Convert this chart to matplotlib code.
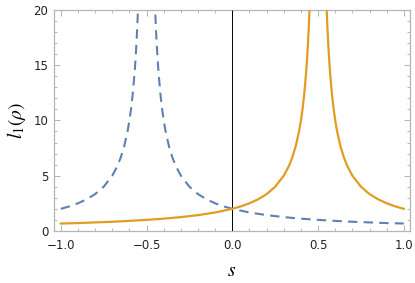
import matplotlib
matplotlib.use("Agg")
import matplotlib.pyplot as plt
from matplotlib.ticker import MultipleLocator

plt.rcParams['mathtext.fontset'] = 'stix'

# Dashed blue curve (two branches around the pole near s = -0.5)
blue_left_s = [-1.0, -0.95, -0.9, -0.85, -0.8, -0.75, -0.7, -0.67, -0.65, -0.63, -0.61, -0.6,
               -0.59, -0.58, -0.57, -0.565, -0.56, -0.555, -0.55, -0.545]
blue_left_v = [2.0, 2.22, 2.5, 2.86, 3.33, 4.0, 5.0, 5.88, 6.67, 7.69, 9.09, 10.0,
               11.1, 12.5, 14.3, 15.4, 16.7, 18.2, 20.0, 22.2]
blue_right_s = [-0.455, -0.45, -0.445, -0.44, -0.435, -0.43, -0.42, -0.41, -0.4, -0.39, -0.37, -0.35,
                -0.33, -0.3, -0.25, -0.2, -0.15, -0.1, -0.05, 0.0,
                0.1, 0.2, 0.3, 0.4, 0.5, 0.6, 0.7, 0.8, 0.9, 1.0]
blue_right_v = [22.2, 20.0, 18.2, 16.7, 15.4, 14.3, 12.5, 11.1, 10.0, 9.09, 7.69, 6.67,
                5.88, 5.0, 4.0, 3.33, 2.86, 2.5, 2.22, 2.0,
                1.67, 1.43, 1.25, 1.11, 1.0, 0.91, 0.83, 0.77, 0.71, 0.67]

# Solid orange curve (two branches around the pole near s = 0.5)
orange_left_s = [-1.0, -0.9, -0.8, -0.7, -0.6, -0.5, -0.4, -0.3, -0.2, -0.1, 0.0, 0.05, 0.1, 0.15, 0.2,
                 0.25, 0.3, 0.33, 0.35, 0.37, 0.39, 0.4, 0.41, 0.42, 0.43, 0.435, 0.44, 0.445, 0.45, 0.455]
orange_left_v = [0.67, 0.71, 0.77, 0.83, 0.91, 1.0, 1.11, 1.25, 1.43, 1.67, 2.0, 2.22, 2.5, 2.86, 3.33,
                 4.0, 5.0, 5.88, 6.67, 7.69, 9.09, 10.0, 11.1, 12.5, 14.3, 15.4, 16.7, 18.2, 20.0, 22.2]
orange_right_s = [0.545, 0.55, 0.555, 0.56, 0.565, 0.57, 0.58, 0.59, 0.6, 0.61, 0.63, 0.65, 0.67,
                  0.7, 0.75, 0.8, 0.85, 0.9, 0.95, 1.0]
orange_right_v = [22.2, 20.0, 18.2, 16.7, 15.4, 14.3, 12.5, 11.1, 10.0, 9.09, 7.69, 6.67, 5.88,
                  5.0, 4.0, 3.33, 2.86, 2.5, 2.22, 2.0]

x_ticks = [-1.0, -0.5, 0.0, 0.5, 1.0]
x_ticklabels = ["\u22121.0", "\u22120.5", "0.0", "0.5", "1.0"]
y_ticks = [0, 5, 10, 15, 20]

blue = "#5E81B5"
orange = "#E19C24"

fig = plt.figure(figsize=(4.15, 2.83), dpi=100)
ax = fig.add_axes([0.130, 0.184, 0.858, 0.781])

ax.vlines(0, 0, 20, color="black", lw=0.7, zorder=2.6)
for xs, ys in [(blue_left_s, blue_left_v), (blue_right_s, blue_right_v)]:
    ax.plot(xs, ys, color=blue, lw=1.5, dashes=(4.5, 3), zorder=3)
for xs, ys in [(orange_left_s, orange_left_v), (orange_right_s, orange_right_v)]:
    ax.plot(xs, ys, color=orange, lw=1.6, zorder=3.1)

ax.set_xlim(-1.04, 1.036)
ax.set_ylim(0, 20)
ax.set_xticks(x_ticks)
ax.set_xticklabels(x_ticklabels)
ax.set_yticks(y_ticks)
ax.xaxis.set_minor_locator(MultipleLocator(0.1))
ax.yaxis.set_minor_locator(MultipleLocator(1))

frame_c = "#b5b5b5"
for sp in ax.spines.values():
    sp.set_color(frame_c)
    sp.set_linewidth(0.9)
ax.tick_params(which="both", direction="in", top=True, right=True, color=frame_c,
               labelsize=8.5, labelcolor="#222222", width=0.7)
ax.tick_params(which="major", length=4)
ax.tick_params(axis="x", which="major", pad=6)
ax.tick_params(axis="y", which="major", pad=4)
ax.tick_params(which="minor", length=2.2)

ax.set_xlabel(r"$s$", fontsize=14, labelpad=6)
ax.set_ylabel(r"$l_1(\rho)$", fontsize=14, labelpad=4)

fig.savefig("out.png", dpi=100)
